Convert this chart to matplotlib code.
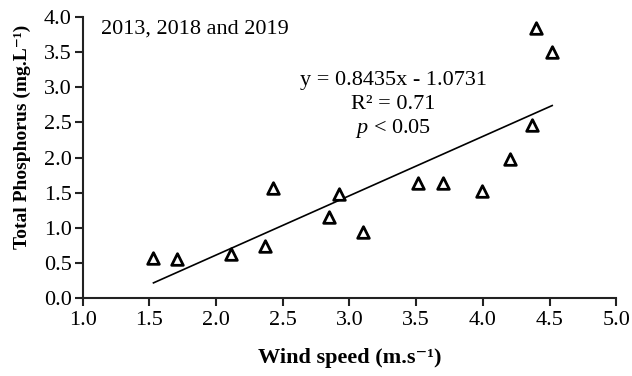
import matplotlib.pyplot as plt
import numpy as np

plt.rcParams['font.family'] = ['Liberation Serif', 'DejaVu Serif']
plt.rcParams['mathtext.fontset'] = 'custom'
plt.rcParams['mathtext.rm'] = 'Liberation Serif'
plt.rcParams['mathtext.it'] = 'Liberation Serif:italic'
plt.rcParams['mathtext.bf'] = 'Liberation Serif:bold'

# wind speed (m/s) and total phosphorus (mg/L)
wind = [1.53, 1.71, 2.11, 2.37, 2.43, 2.85, 2.92, 3.10, 3.51, 3.70, 3.99, 4.20, 4.37, 4.40, 4.52]
tp = [0.57, 0.56, 0.63, 0.74, 1.57, 1.15, 1.48, 0.94, 1.64, 1.64, 1.52, 1.98, 2.46, 3.84, 3.50]

slope = 0.8435
intercept = -1.0731

fig = plt.figure(figsize=(6.32, 3.76), dpi=100)
ax = fig.add_axes([0.131, 0.207, 0.844, 0.748])

ax.scatter(wind, tp, marker='^', s=70, facecolors='white', edgecolors='black', linewidths=2, zorder=3)

xl = np.array([min(wind), max(wind)])
ax.plot(xl, slope * xl + intercept, color='black', linewidth=1.2, zorder=2)

ax.set_xlim(1.0, 5.0)
ax.set_ylim(0.0, 4.0)
ax.set_xticks(np.arange(1.0, 5.01, 0.5))
ax.set_yticks(np.arange(0.0, 4.01, 0.5))
ax.xaxis.set_major_formatter(plt.FormatStrFormatter('%.1f'))
ax.yaxis.set_major_formatter(plt.FormatStrFormatter('%.1f'))
ax.tick_params(direction='out', length=6, width=1.5, labelsize=16, color='#222222')
ax.tick_params(axis='y', pad=2)

for s in ['top', 'right']:
    ax.spines[s].set_visible(False)
for s in ['left', 'bottom']:
    ax.spines[s].set_linewidth(1.5)
    ax.spines[s].set_color('#222222')

ax.set_xlabel('Wind speed (m.s⁻¹)', fontsize=16, fontweight='bold', labelpad=13)
ax.set_ylabel('Total Phosphorus (mg.L⁻¹)', fontsize=14, fontweight='bold')
ax.yaxis.set_label_coords(-0.097, 0.573)

ax.text(0.035, 0.99, '2013, 2018 and 2019', transform=ax.transAxes, fontsize=16, va='top', ha='left')
ax.text(3.33, 3.10, 'y = 0.8435x - 1.0731', fontsize=16, ha='center', va='center')
ax.text(3.33, 2.75, 'R² = 0.71', fontsize=16, ha='center', va='center')
ax.text(3.33, 2.42, '$p$ < 0.05', fontsize=16, ha='center', va='center')

fig.savefig('out.png', dpi=100)
